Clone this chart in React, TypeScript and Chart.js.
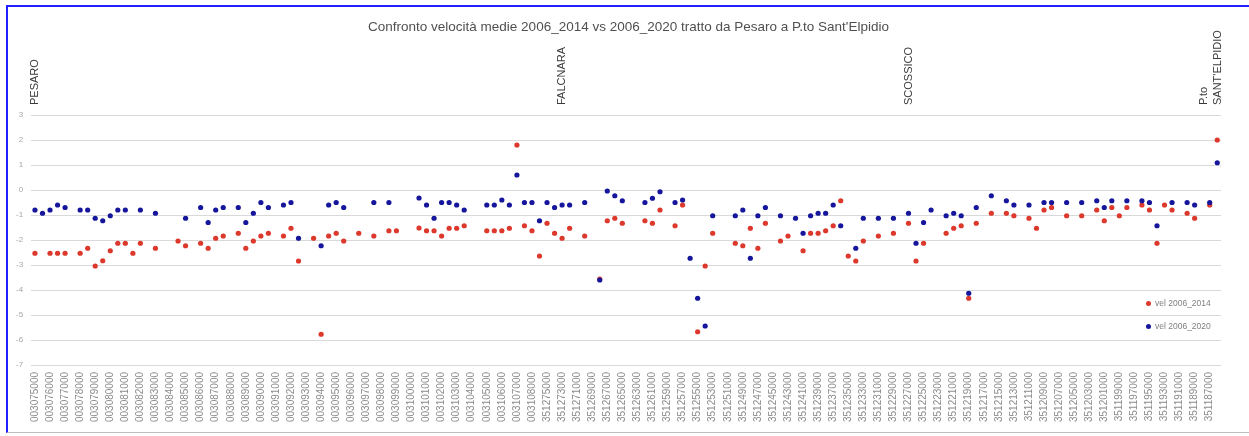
import React, { useEffect, useRef } from 'react';
import { Chart, registerables } from 'chart.js';

Chart.register(...registerables);

const FONT = "'Liberation Sans', Arial, sans-serif";

const titleText = "Confronto velocità medie 2006_2014 vs 2006_2020 tratto da Pesaro a P.to Sant'Elpidio";

const seriesNames = ['vel 2006_2014', 'vel 2006_2020'];

const categories = [
  '003075000', '003075500', '003076000', '003076500', '003077000', '003077500', '003078000', '003078500', '003079000', '003079500',
  '003080000', '003080500', '003081000', '003081500', '003082000', '003082500', '003083000', '003083500', '003084000', '003084500',
  '003085000', '003085500', '003086000', '003086500', '003087000', '003087500', '003088000', '003088500', '003089000', '003089500',
  '003090000', '003090500', '003091000', '003091500', '003092000', '003092500', '003093000', '003093500', '003094000', '003094500',
  '003095000', '003095500', '003096000', '003096500', '003097000', '003097500', '003098000', '003098500', '003099000', '003099500',
  '003100000', '003100500', '003101000', '003101500', '003102000', '003102500', '003103000', '003103500', '003104000', '003104500',
  '003105000', '003105500', '003106000', '003106500', '003107000', '003107500', '003108000', '003108500',
  '351275000', '351274000', '351273000', '351272000', '351271000', '351270000', '351269000', '351268000', '351267000', '351266000',
  '351265000', '351264000', '351263000', '351262000', '351261000', '351260000', '351259000', '351258000', '351257000', '351256000',
  '351255000', '351254000', '351253000', '351252000', '351251000', '351250000', '351249000', '351248000', '351247000', '351246000',
  '351245000', '351244000', '351243000', '351242000', '351241000', '351240000', '351239000', '351238000', '351237000', '351236000',
  '351235000', '351234000', '351233000', '351232000', '351231000', '351230000', '351229000', '351228000', '351227000', '351226000',
  '351225000', '351224000', '351223000', '351222000', '351221000', '351220000', '351219000', '351218000', '351217000', '351216000',
  '351215000', '351214000', '351213000', '351212000', '351211000', '351210000', '351209000', '351208000', '351207000', '351206000',
  '351205000', '351204000', '351203000', '351202000', '351201000', '351200000', '351199000', '351198000', '351197000', '351196000',
  '351195000', '351194000', '351193000', '351192000', '351191000', '351190000', '351189000', '351188000', '351187000', '351186000',
];

const vel2014 = [
  -2.53, null, -2.53, -2.53, -2.53, null, -2.53, -2.33, -3.04, -2.83,
  -2.43, -2.13, -2.13, -2.53, -2.13, null, -2.33, null, null, -2.04,
  -2.23, null, -2.13, -2.33, -1.93, -1.84, null, -1.73, -2.33, -2.04,
  -1.84, -1.73, null, -1.84, -1.53, -2.84, null, -1.93, -5.77, -1.84,
  -1.73, -2.04, null, -1.73, null, -1.84, null, -1.63, -1.63, null,
  null, -1.52, -1.63, -1.63, -1.84, -1.53, -1.53, -1.43, null, null,
  -1.63, -1.63, -1.63, -1.53, 1.8, -1.43, -1.63, -2.64, -1.33, -1.73,
  -1.93, -1.53, null, -1.84, null, -3.56, -1.23, -1.13, -1.33, null,
  null, -1.23, -1.33, -0.8, null, -1.43, -0.6, null, -5.67, -3.04,
  -1.73, null, null, -2.13, -2.23, -1.53, -2.33, -1.33, null, -2.04,
  -1.84, null, -2.43, -1.73, -1.73, -1.63, -1.43, -0.43, -2.64, -2.84,
  -2.04, null, -1.84, null, -1.73, null, -1.33, -2.84, -2.13, null,
  null, -1.73, -1.53, -1.43, -4.33, -1.33, null, -0.93, null, -0.93,
  -1.03, null, -1.13, -1.53, -0.8, -0.7, null, -1.03, null, -1.03,
  null, -0.8, -1.23, -0.7, -1.03, -0.7, null, -0.6, -0.8, -2.13,
  -0.6, -0.8, null, -0.93, -1.13, null, -0.6, 2.0,
];

const vel2020 = [
  -0.8, -0.93, -0.8, -0.6, -0.7, null, -0.8, -0.8, -1.13, -1.23,
  -1.03, -0.8, -0.8, null, -0.8, null, -0.93, null, null, null,
  -1.13, null, -0.7, -1.3, -0.8, -0.7, null, -0.7, -1.3, -0.93,
  -0.5, -0.7, null, -0.6, -0.5, -1.93, null, null, -2.23, -0.6,
  -0.5, -0.7, null, null, null, -0.5, null, -0.5, null, null,
  null, -0.32, -0.6, -1.13, -0.5, -0.5, -0.6, -0.8, null, null,
  -0.6, -0.6, -0.4, -0.6, 0.6, -0.5, -0.5, -1.23, -0.5, -0.7,
  -0.6, -0.6, null, -0.5, null, -3.6, -0.04, -0.23, -0.43, null,
  null, -0.5, -0.33, -0.07, null, -0.5, -0.4, -2.73, -4.33, -5.44,
  -1.03, null, null, -1.03, -0.8, -2.73, -1.03, -0.7, null, -1.03,
  null, -1.13, -1.73, -1.03, -0.93, -0.93, -0.6, -1.43, null, -2.33,
  -1.13, null, -1.13, null, -1.13, null, -0.93, -2.13, -1.3, -0.8,
  null, -1.03, -0.93, -1.03, -4.13, -0.7, null, -0.23, null, -0.43,
  -0.6, null, -0.6, null, -0.5, -0.5, null, -0.5, null, -0.5,
  null, -0.43, -0.7, -0.43, null, -0.43, null, -0.43, -0.5, -1.43,
  null, -0.5, null, -0.5, -0.6, null, -0.5, 1.09,
];

const locationIndex = [0, 70, 116, 157];
const locationNames: (string | string[])[] = ['PESARO', 'FALCNARA', 'SCOSSICO', ['P.to', "SANT'ELPIDIO"]];

const RED = '#dc382c';
const BLUE = '#16169c';

export default function App() {
  const ref = useRef<HTMLCanvasElement | null>(null);

  useEffect(() => {
    if (!ref.current) return;
    const chart = new Chart(ref.current, {
      type: 'line',
      data: {
        labels: categories,
        datasets: [
          {
            label: seriesNames[0],
            data: vel2014,
            showLine: false,
            backgroundColor: RED,
            borderColor: RED,
            pointRadius: 2.6,
            pointBorderWidth: 0,
            pointHoverRadius: 2.6,
            order: 1,
          },
          {
            label: seriesNames[1],
            data: vel2020,
            showLine: false,
            backgroundColor: BLUE,
            borderColor: BLUE,
            pointRadius: 2.6,
            pointBorderWidth: 0,
            pointHoverRadius: 2.6,
            order: 0,
          },
        ],
      },
      options: {
        responsive: false,
        animation: false,
        layout: { padding: 0 },
        plugins: {
          legend: { display: false },
          tooltip: { enabled: false },
          title: {
            display: true,
            text: titleText,
            color: '#505050',
            font: { family: FONT, size: 13.5, weight: 'normal', lineHeight: 1.2 },
            padding: { top: 12, bottom: -12 },
          },
        },
        scales: {
          x: {
            type: 'category',
            position: 'bottom',
            offset: true,
            grid: { display: false, drawTicks: false },
            border: { display: false },
            ticks: {
              autoSkip: false,
              minRotation: 90,
              maxRotation: 90,
              padding: 7,
              color: '#8c8c8c',
              font: { family: FONT, size: 10 },
              callback: (_v: any, i: number) => (i % 2 === 0 ? categories[i] : ''),
            },
            afterFit: (s: any) => { s.height = 68; },
          },
          xTop: {
            type: 'category',
            position: 'top',
            offset: true,
            grid: { display: false, drawTicks: false },
            border: { display: false },
            ticks: {
              autoSkip: false,
              minRotation: 90,
              maxRotation: 90,
              padding: 10,
              labelOffset: 14,
              color: '#3a3a3a',
              font: { family: FONT, size: 11, lineHeight: 1.25 },
              callback: (_v: any, i: number) => {
                const k = locationIndex.indexOf(i);
                return k >= 0 ? locationNames[k] : '';
              },
            },
            afterFit: (s: any) => { s.height = 108 - 16.2; },
          },
          y: {
            min: -7,
            max: 3,
            grid: { color: '#d9d9d9', drawTicks: false, lineWidth: 1 },
            border: { display: false },
            ticks: {
              stepSize: 1,
              padding: 8,
              color: '#a6a6a6',
              font: { family: FONT, size: 8 },
            },
            afterFit: (s: any) => { s.width = 23.2; },
          },
          yRight: {
            type: 'linear',
            position: 'right',
            min: -7,
            max: 3,
            grid: { display: false, drawTicks: false },
            border: { display: false },
            ticks: { display: false },
            afterFit: (s: any) => { s.width = 28; },
          },
        },
      },
    });
    return () => chart.destroy();
  }, []);

  const legendItem = (top: number, color: string, text: string) => (
    <div style={{ position: 'absolute', left: 1146, top, height: 12, display: 'flex', alignItems: 'center', fontFamily: FONT, fontSize: 8.5, color: '#7f7f7f', whiteSpace: 'nowrap' }}>
      <span style={{ display: 'inline-block', width: 5, height: 5, borderRadius: '50%', background: color, marginRight: 4 }} />
      <span>{text}</span>
    </div>
  );

  return (
    <div style={{ position: 'absolute', left: 0, top: 0, width: 1249, height: 436, background: '#ffffff' }}>
      <div style={{ position: 'absolute', left: 6, top: 5, width: 1243, height: 428, borderTop: '2px solid #1f1fff', borderLeft: '2px solid #1f1fff', borderBottom: '1px solid #bfbfbf', boxSizing: 'border-box' }} />
      <canvas ref={ref} width={1241} height={426} style={{ position: 'absolute', left: 8, top: 7, width: 1241, height: 426 }} />
      {legendItem(297, RED, seriesNames[0])}
      {legendItem(320, BLUE, seriesNames[1])}
    </div>
  );
}
